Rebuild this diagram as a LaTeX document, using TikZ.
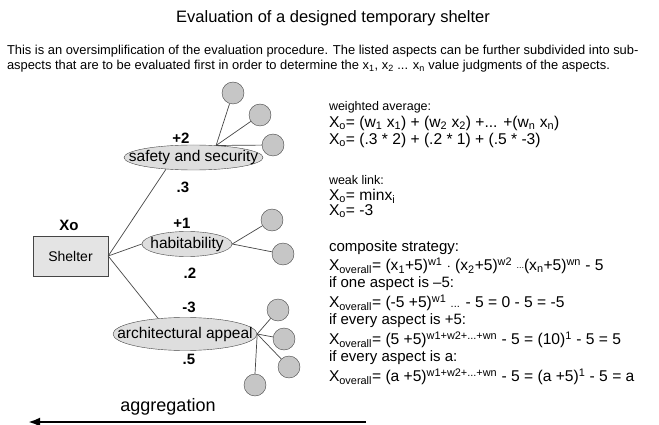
\documentclass[tikz,border=0pt]{standalone}
\usepackage{fontspec}
\setmainfont{Liberation Sans}
\usetikzlibrary{shapes.geometric,arrows.meta}
\newcommand\fs[1]{\fontsize{#1}{#1}\selectfont}
\newcommand\sbx[1]{\textsubscript{#1}}
\newcommand\spx[1]{\textsuperscript{#1}}
\newcommand\zw[1]{\makebox[0pt]{#1}}
\definecolor{ellfill}{HTML}{DEDEDE}
\definecolor{leaffill}{HTML}{C6C6C6}
\definecolor{boxfill}{HTML}{E4E4E4}
\definecolor{edge}{HTML}{454545}
\begin{document}
\begin{tikzpicture}[x=1pt,y=-1pt,
  txt/.style={anchor=west,inner sep=0pt,outer sep=0pt},
  aspect/.style={ellipse,draw=edge,fill=ellfill,inner sep=0pt,font=\fs{15.5}},
  leaf/.style={circle,draw=edge,fill=leaffill,minimum size=22pt,inner sep=0pt},
  link/.style={draw=edge,line width=0.7pt},
  val/.style={inner sep=0pt,font=\fs{15}\bfseries},
  shelterbox/.style={draw=edge,fill=boxfill,minimum width=75pt,minimum height=40pt,inner sep=0pt,font=\fs{14}}]
\useasboundingbox (0,0) rectangle (659,425);
% title and intro
\node[inner sep=0pt,font=\fs{16.5}] (title) at (333,18) {Evaluation of a designed temporary shelter};
\node[txt,font=\fs{12.9}] (p1) at (7,51) {This is an oversimplification of the evaluation procedure. The listed aspects can be further subdivided into sub-};
\node[txt,font=\fs{12.9}] (p2) at (7,66) {aspects that are to be evaluated first in order to determine the x\sbx{1}, x\sbx{2} ... x\sbx{n} value judgments of the aspects.};
% tree
\node[shelterbox] (shelter) at (70.5,256) {Shelter};
\node[val] (xo) at (69,225) {Xo};
\node[aspect,minimum width=139pt,minimum height=25pt] (saf) at (193.5,157.5) {\zw{safety and security}};
\node[aspect,minimum width=90pt,minimum height=25pt] (hab) at (187,244) {\zw{habitability}};
\node[aspect,minimum width=144pt,minimum height=33pt] (arch) at (185,334) {\zw{architectural appeal}};
\node[val] (v1) at (181,138) {+2};
\node[val] (w1) at (183,187) {.3};
\node[val] (v2) at (182,223) {+1};
\node[val] (w2) at (190,273) {.2};
\node[val] (v3) at (189,307) {-3};
\node[val] (w3) at (189,359) {.5};
\node[leaf] (s1) at (233,93) {};
\node[leaf] (s2) at (260,115) {};
\node[leaf] (s3) at (273,145) {};
\node[leaf] (h1) at (272,220) {};
\node[leaf] (h2) at (283,254) {};
\node[leaf] (a1) at (278,310) {};
\node[leaf] (a2) at (284,339) {};
\node[leaf] (a3) at (289,367) {};
\node[leaf] (a4) at (255,385) {};
\draw[link] (shelter.east) -- (saf.203);
\draw[link] (shelter.east) -- (hab.west);
\draw[link] (shelter.east) -- (arch.150);
\draw[link] (saf.28) -- (s1);
\draw[link] (saf.28) -- (s2);
\draw[link] (saf.28) -- (s3);
\draw[link] (hab.east) -- (h1);
\draw[link] (hab.east) -- (h2);
\draw[link] (arch.east) -- (a1);
\draw[link] (arch.east) -- (a2);
\draw[link] (arch.east) -- (a3);
\draw[link] (arch.east) -- (a4.north);
% aggregation arrow
\node[inner sep=0pt,font=\fs{18}] (agg) at (168,407) {aggregation};
\coordinate (arrR) at (366,422);
\coordinate (arrL) at (28,422);
\draw[line width=2.5pt,-{Latex[length=12pt,width=9pt]}] (arrR) -- (arrL);
% formulas
\node[txt,font=\fs{12.5}] (wa) at (329,107) {weighted average:};
\node[txt,font=\fs{15.6}] (wa1) at (329,123) {X\sbx{o}= (w\sbx{1} x\sbx{1}) + (w\sbx{2} x\sbx{2}) +... +(w\sbx{n} x\sbx{n})};
\node[txt,font=\fs{15.6}] (wa2) at (329,140.5) {X\sbx{o}= (.3 * 2) + (.2 * 1) + (.5 * -3)};
\node[txt,font=\fs{12.5}] (wl) at (329,180) {weak link:};
\node[txt,font=\fs{15.6}] (wl1) at (329,196) {X\sbx{o}= minx\sbx{i}};
\node[txt,font=\fs{15.6}] (wl2) at (329,211.5) {X\sbx{o}= -3};
\node[txt,font=\fs{15}] (cs) at (329,248) {composite strategy:};
\node[txt,font=\fs{15.6}] (cs1) at (329,266) {X\sbx{overall}= (x\sbx{1}+5)\spx{w1} $\cdot$ (x\sbx{2}+5)\spx{w2} {\fs{9}\raisebox{0.3em}{...}}(x\sbx{n}+5)\spx{wn} - 5};
\node[txt,font=\fs{15}] (cs2) at (329,284) {if one aspect is --5:};
\node[txt,font=\fs{15.6}] (cs3) at (329,303) {X\sbx{overall}= (-5 +5)\spx{w1} {\fs{11}...} - 5 = 0 - 5 = -5};
\node[txt,font=\fs{15}] (cs4) at (329,321) {if every aspect is +5:};
\node[txt,font=\fs{15.6}] (cs5) at (329,340) {X\sbx{overall}= (5 +5)\spx{w1+w2+...+wn} - 5 = (10)\spx{1} - 5 = 5};
\node[txt,font=\fs{15}] (cs6) at (329,358) {if every aspect is a:};
\node[txt,font=\fs{15.6}] (cs7) at (329,377) {X\sbx{overall}= (a +5)\spx{w1+w2+...+wn} - 5 = (a +5)\spx{1} - 5 = a};
\end{tikzpicture}
\end{document}
